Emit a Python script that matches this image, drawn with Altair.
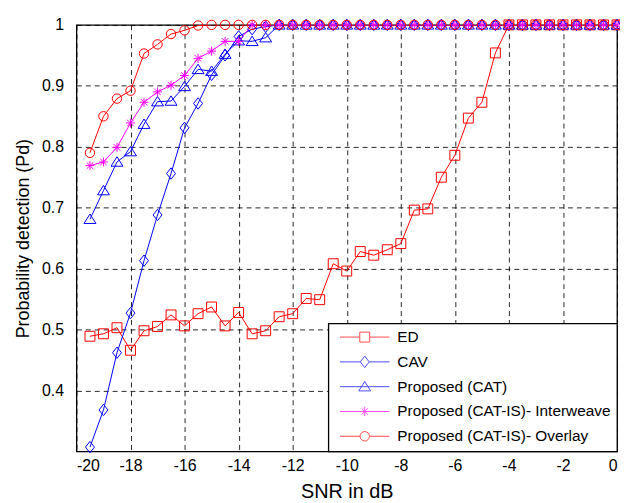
import altair as alt
import pandas as pd

snr = [-19.5 + 0.5 * i for i in range(40)]

series_names = [
    "ED",
    "CAV",
    "Proposed (CAT)",
    "Proposed (CAT-IS)- Interweave",
    "Proposed (CAT-IS)- Overlay",
]
series_colors = ["#ff0000", "#0000ff", "#0000ff", "#ff00ff", "#ff0000"]

ed = [0.489, 0.493, 0.503, 0.466, 0.498, 0.505, 0.524, 0.506, 0.526, 0.537,
      0.506, 0.528, 0.493, 0.498, 0.521, 0.526, 0.551, 0.549, 0.608, 0.596,
      0.628, 0.622, 0.631, 0.641, 0.696, 0.698, 0.750, 0.786, 0.847, 0.873,
      0.954, 1.0, 1.0, 1.0, 1.0, 1.0, 1.0, 1.0, 1.0, 1.0]
cav = [0.307, 0.368, 0.462, 0.527, 0.613, 0.688, 0.756, 0.831, 0.871, 0.918,
       0.950, 0.981, 0.993, 0.997] + [1.0] * 26
cat = [0.681, 0.728, 0.775, 0.792, 0.837, 0.874, 0.875, 0.899, 0.927, 0.924,
       0.952, 0.974, 0.973, 0.979] + [1.0] * 26
interweave = [0.769, 0.775, 0.799, 0.839, 0.873, 0.890, 0.901, 0.917, 0.945,
              0.957, 0.973, 0.973] + [1.0] * 28
overlay = [0.790, 0.850, 0.879, 0.892, 0.953, 0.968, 0.985, 0.991, 0.999] + [1.0] * 31

x_ticks = [-20, -18, -16, -14, -12, -10, -8, -6, -4, -2, 0]
y_ticks = [0.4, 0.5, 0.6, 0.7, 0.8, 0.9, 1.0]

# marker outlines (unit = sqrt(size)/2 px)
marker_paths = [
    "M-1,-1H1V1H-1Z",
    "M0,-1.15L0.9,0L0,1.15L-0.9,0Z",
    "M0,-1.05L1.2,0.85H-1.2Z",
    "M0,-0.9V0.9M-0.9,0H0.9M-0.65,-0.65L0.65,0.65M-0.65,0.65L0.65,-0.65",
    "M0.95,0A0.95,0.95 0 1,1 -0.95,0A0.95,0.95 0 1,1 0.95,0Z",
]
# legend symbols: line segment with marker in the middle
legend_paths = [
    "M-0.42,0H3.58M5.58,0H9.58M3.58,-1H5.58V1H3.58Z",
    "M-0.42,0H3.68M5.48,0H9.58M4.58,-1.15L5.48,0L4.58,1.15L3.68,0Z",
    "M-0.42,0H9.58M4.58,-1.05L5.78,0.85H3.38Z",
    "M-0.42,0H9.58M4.58,-0.9V0.9M3.93,-0.65L5.23,0.65M3.93,0.65L5.23,-0.65",
    "M-0.42,0H3.63M5.53,0H9.58M5.53,0A0.95,0.95 0 1,1 3.63,0A0.95,0.95 0 1,1 5.53,0Z",
]

rows = []
for name, vals in zip(series_names, [ed, cav, cat, interweave, overlay]):
    for s, v in zip(snr, vals):
        rows.append({"snr": s, "pd": v, "series": name})
df = pd.DataFrame(rows)

FONT = "Liberation Sans"

x_enc = alt.X(
    "snr:Q",
    scale=alt.Scale(domain=[-20, 0], nice=False),
    axis=alt.Axis(values=x_ticks, title="SNR in dB", labelExpr="datum.value + ''",
                  labelPadding=6, titlePadding=8, titleFontSize=20),
)
y_enc = alt.Y(
    "pd:Q",
    scale=alt.Scale(domain=[0.3, 1.0], nice=False, zero=False),
    axis=alt.Axis(values=y_ticks, title="Probability detection (Pd)", format=".1~f",
                  labelPadding=13, titlePadding=9, titleFontSize=18),
)
color_scale = alt.Scale(domain=series_names, range=series_colors)

base = alt.Chart(df)

lines = base.mark_line(strokeWidth=1, clip=True).encode(
    x=x_enc, y=y_enc,
    color=alt.Color("series:N", scale=color_scale, legend=None),
)

points = base.mark_point(filled=False, size=100, strokeWidth=1, opacity=1, clip=False).encode(
    x=x_enc, y=y_enc,
    color=alt.Color("series:N", scale=color_scale, legend=None),
    shape=alt.Shape("series:N", scale=alt.Scale(domain=series_names, range=marker_paths), legend=None),
)

leg = alt.Legend(
    title=None, orient="bottom-right", offset=0, padding=6,
    strokeColor="black", fillColor="white",
    labelFont=FONT, labelFontSize=15.5, labelColor="black", labelLimit=400,
    labelOffset=48, rowPadding=8, symbolSize=100, symbolStrokeWidth=1,
)
legend_layer = base.mark_point(filled=False, size=100, strokeWidth=1).encode(
    color=alt.Color("series:N", scale=color_scale, legend=leg),
    shape=alt.Shape("series:N", scale=alt.Scale(domain=series_names, range=legend_paths), legend=leg),
).transform_filter("false")

chart = alt.layer(lines, points, legend_layer).resolve_scale(
    color="independent", shape="independent"
).properties(
    width=617, height=495, background="white",
    autosize=alt.AutoSizeParams(type="fit", contains="padding"),
    padding={"left": 6, "top": 7, "right": -5, "bottom": 0},
).configure_view(
    stroke="black", strokeWidth=1.3
).configure_axis(
    labelFont=FONT, titleFont=FONT, labelFontSize=16,
    titleFontWeight="normal", labelColor="black", titleColor="black",
    ticks=False, domain=False, grid=True, gridColor="black", gridDash=[5, 4],
    gridOpacity=0.85, gridWidth=1,
).configure_legend(
    strokeWidth=1.3
)

chart.save("out.html", embed_options={"renderer": "svg", "actions": False})
